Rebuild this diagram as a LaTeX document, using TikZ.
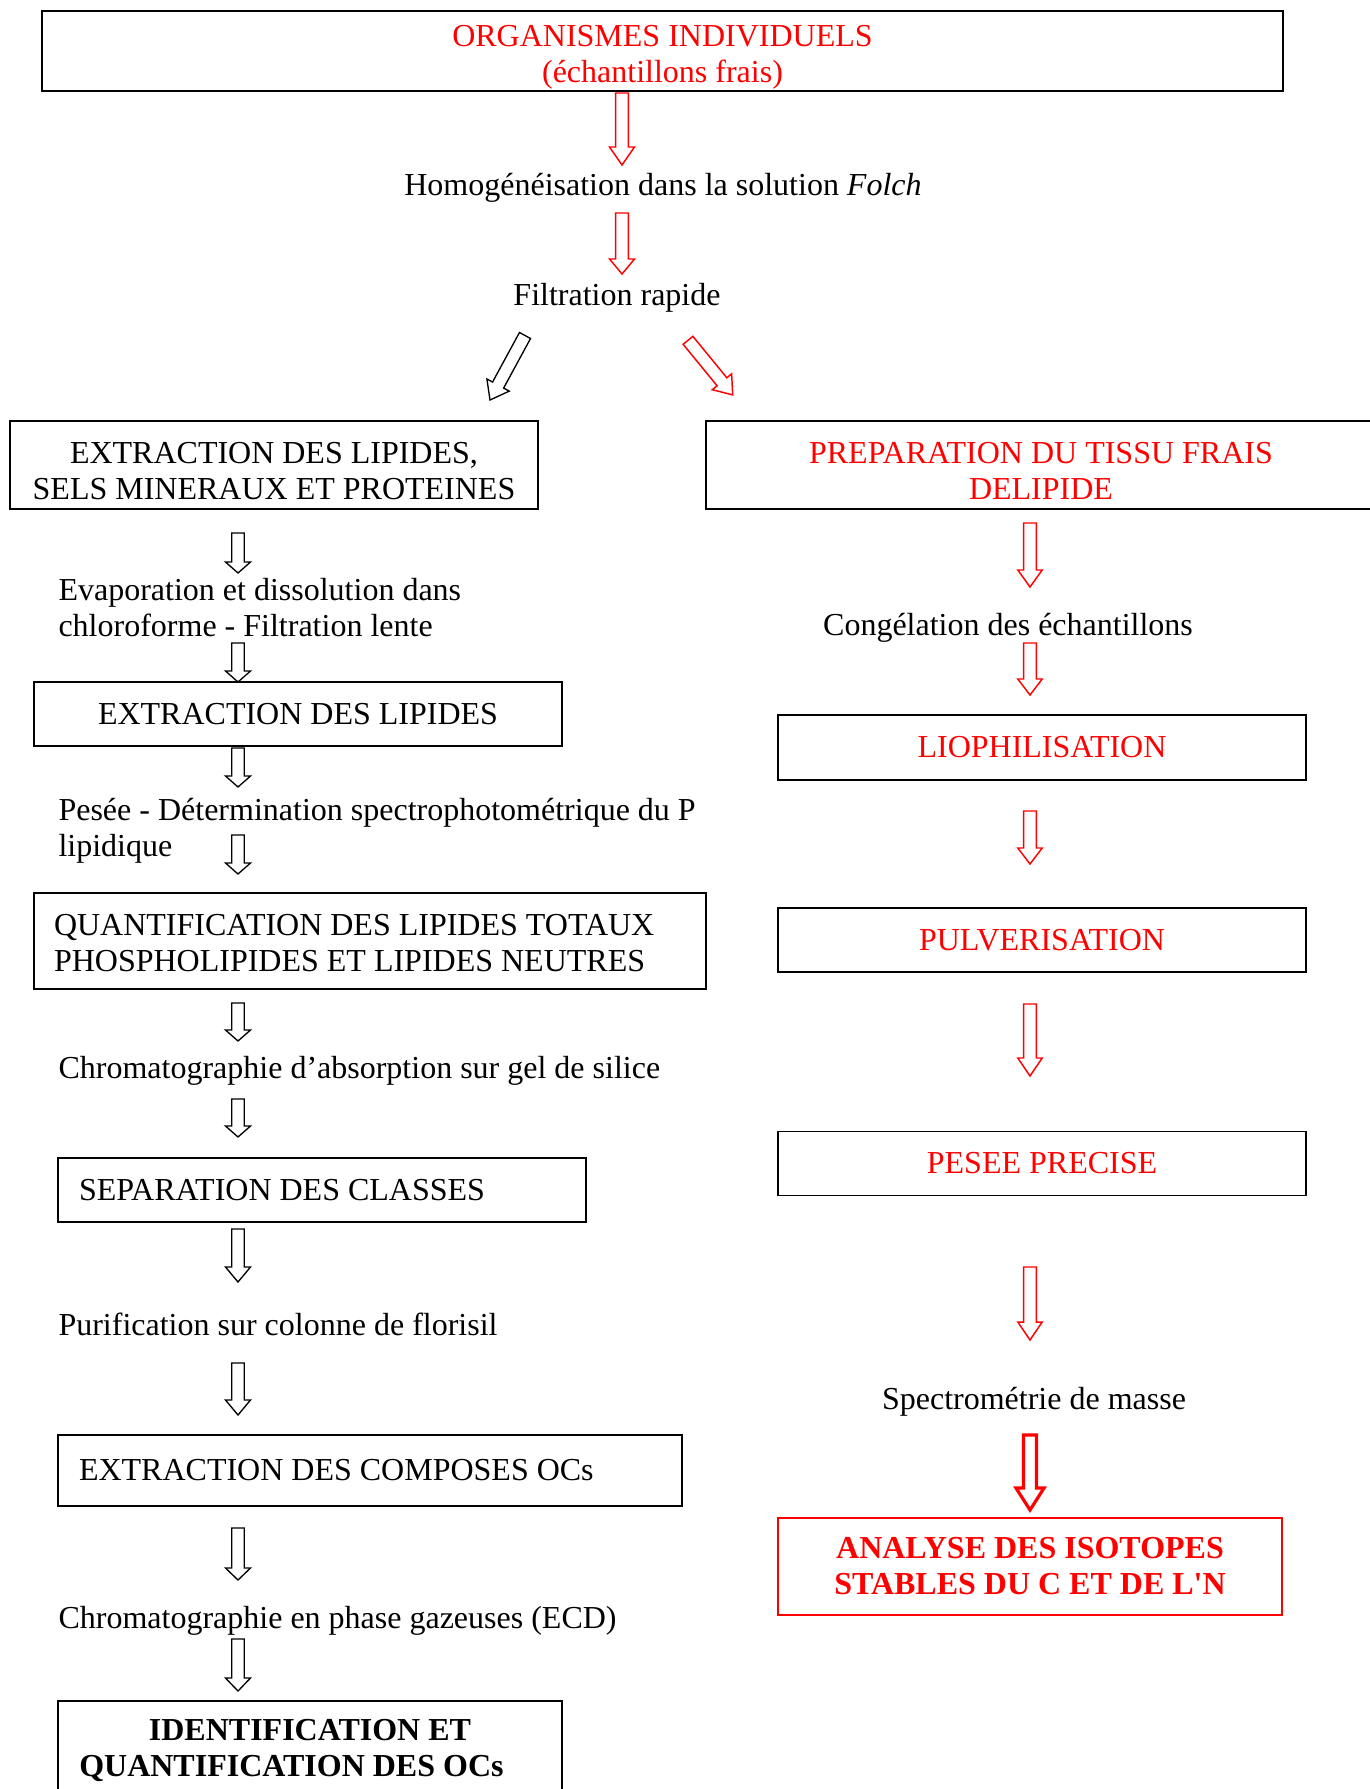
\documentclass[tikz,border=0pt]{standalone}
\usepackage{fontspec}
\setmainfont{Liberation Serif}
\definecolor{flowred}{RGB}{255,0,0}
\newcommand{\pxu}{0.375pt}
% extra room above the first line of a two-line box
\newcommand{\boxpad}[1]{\rule{0pt}{#1}}
\tikzset{
  stepbox/.style={
    draw=black,
    line width=0.6pt,
    inner sep=0pt,
    align=center
  },
  redstep/.style={
    stepbox,
    text=flowred
  },
  resultbox/.style={
    stepbox,
    draw=flowred,
    line width=0.8pt,
    text=flowred,
    font=\fontsize{12}{13.5}\selectfont\bfseries
  },
  steptext/.style={
    inner sep=0pt,
    align=left
  },
  blackarrow/.style={
    draw=black,
    line width=0.5pt
  },
  redarrow/.style={
    draw=flowred,
    line width=0.55pt
  },
  pics/blockarrow/.style n args={4}{
    code={
      \path[pic actions] (-#3,0) -- (-#3,#1-#2) -- (-#4,#1-#2) -- (0,#1)
        -- (#4,#1-#2) -- (#3,#1-#2) -- (#3,0) -- cycle;
    }
  }
}

\begin{document}
\begin{tikzpicture}[x=\pxu,y=-\pxu,font=\fontsize{12}{13.5}\selectfont]

  \useasboundingbox (0,0) rectangle (1370,1789);

  % Common trunk: fresh samples, homogenisation and filtration.
  \node[redstep, minimum width=1241*\pxu, minimum height=80*\pxu] (organismes) at (662.5,51)
    {\boxpad{12.4pt}ORGANISMES INDIVIDUELS\\(échantillons frais)};
  \node[anchor=base, inner sep=0pt] (homog) at (663,195)
    {Homogénéisation dans la solution \textit{Folch}};
  \node[anchor=base, inner sep=0pt] (filtration) at (617,305) {Filtration rapide};

  \pic[redarrow] at (622,93) {blockarrow={72}{18}{6.3}{12.5}};
  \pic[redarrow] at (622,213) {blockarrow={61}{15}{6.3}{12.5}};

  % The two branches leave the filtration step obliquely.
  \pic[blackarrow, rotate=-28.5] at (525,335.5) {blockarrow={73.4}{17}{6.3}{12.7}};
  \pic[redarrow, rotate=39.3] at (688,340.3) {blockarrow={70.6}{17}{6.3}{12.5}};

  % Left branch: lipids and organochlorine compounds.
  \node[stepbox, minimum width=528*\pxu, minimum height=88*\pxu] (extraction) at (274,465)
    {\boxpad{12.4pt}EXTRACTION DES LIPIDES,\\SELS MINERAUX ET PROTEINES};
  \node[steptext, anchor=west] (evaporation) at (58,608)
    {Evaporation et dissolution dans\\chloroforme - Filtration lente};
  \node[stepbox, minimum width=528*\pxu, minimum height=64*\pxu] (lipides) at (298,714)
    {EXTRACTION DES LIPIDES};
  \node[steptext, anchor=west] (pesee) at (58,831)
    {Pesée - Détermination spectrophotométrique du P\\lipidique};
  \node[stepbox, align=flush left, text width=632*\pxu, inner xsep=20*\pxu, minimum height=96*\pxu]
    (quantif) at (370,941)
    {\boxpad{9.4pt}QUANTIFICATION DES LIPIDES TOTAUX\\PHOSPHOLIPIDES ET LIPIDES NEUTRES};
  \node[steptext, anchor=base west] (chromabs) at (58,1078)
    {Chromatographie d’absorption sur gel de silice};
  \node[stepbox, align=flush left, text width=486*\pxu, inner xsep=21*\pxu, minimum height=64*\pxu]
    (classes) at (322,1190) {SEPARATION DES CLASSES};
  \node[steptext, anchor=base west] (florisil) at (58,1335)
    {Purification sur colonne de florisil};
  \node[stepbox, align=flush left, text width=582*\pxu, inner xsep=21*\pxu, minimum height=71*\pxu]
    (composes) at (370,1470.5) {EXTRACTION DES COMPOSES OCs};
  \node[steptext, anchor=base west] (ecd) at (58,1628)
    {Chromatographie en phase gazeuses (ECD)};
  \node[stepbox, font=\fontsize{12}{13.5}\selectfont\bfseries,
    minimum width=504*\pxu, minimum height=98*\pxu] (identif) at (310,1750)
    {IDENTIFICATION ET\\QUANTIFICATION DES OCs\hspace*{13.9pt}};

  \pic[blackarrow] at (238,533) {blockarrow={40}{11}{6.3}{12.5}};
  \pic[blackarrow] at (238,643) {blockarrow={39}{11}{6.3}{12.5}};
  \pic[blackarrow] at (238,748) {blockarrow={39}{11}{6.3}{12.5}};
  \pic[blackarrow] at (238,835) {blockarrow={39}{11}{6.3}{12.5}};
  \pic[blackarrow] at (238,1003) {blockarrow={38}{11}{6.3}{12.5}};
  \pic[blackarrow] at (238,1099) {blockarrow={38}{11}{6.3}{12.5}};
  \pic[blackarrow] at (238,1229) {blockarrow={53}{15}{6.3}{12.5}};
  \pic[blackarrow] at (238,1363) {blockarrow={52}{15}{6.3}{12.5}};
  \pic[blackarrow] at (238,1528) {blockarrow={52}{12}{6.3}{12.5}};
  \pic[blackarrow] at (238,1639) {blockarrow={52}{13}{6.3}{12.5}};

  % Right branch: delipidated tissue for stable isotopes.
  \node[redstep, minimum width=670*\pxu, minimum height=88*\pxu] (delipide) at (1041,465)
    {\boxpad{12.4pt}PREPARATION DU TISSU FRAIS\\DELIPIDE};
  \node[anchor=base, inner sep=0pt] (congelation) at (1008,635)
    {Congélation des échantillons};
  \node[redstep, minimum width=528*\pxu, minimum height=65*\pxu] (lyophil) at (1042,747.5)
    {LIOPHILISATION};
  \node[redstep, minimum width=528*\pxu, minimum height=64*\pxu] (pulver) at (1042,940)
    {PULVERISATION};
  \node[redstep, minimum width=528*\pxu, minimum height=64*\pxu] (peseeprec) at (1042,1163.5)
    {PESEE PRECISE};
  \node[anchor=base, inner sep=0pt] (spectro) at (1034,1409) {Spectrométrie de masse};
  \node[resultbox, minimum width=504*\pxu, minimum height=97*\pxu] (isotopes) at (1030,1566.5)
    {ANALYSE DES ISOTOPES\\STABLES DU C ET DE L\textquotesingle N};

  \pic[redarrow] at (1030,523) {blockarrow={64}{17}{6.3}{12.2}};
  \pic[redarrow] at (1030,643) {blockarrow={52}{16}{6.3}{12.2}};
  \pic[redarrow] at (1030,811) {blockarrow={53}{16}{6.3}{12.2}};
  \pic[redarrow] at (1030,1004) {blockarrow={72}{18}{6.3}{12.2}};
  \pic[redarrow] at (1030,1267) {blockarrow={73}{18}{6.3}{12.2}};
  \pic[redarrow, line width=1.2pt] at (1030,1435) {blockarrow={75}{22}{6.5}{14}};

\end{tikzpicture}
\end{document}
